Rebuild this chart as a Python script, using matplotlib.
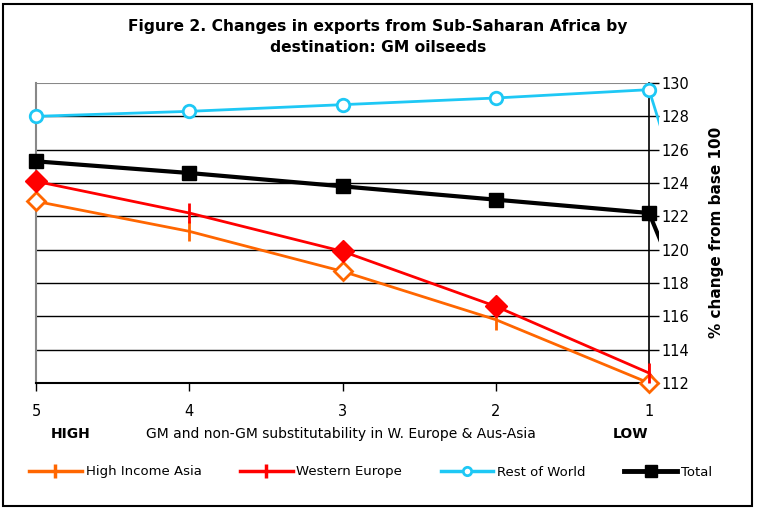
import matplotlib.pyplot as plt
from matplotlib.lines import Line2D
from matplotlib.patches import Rectangle

# substitutability level (5 = high ... 1 = low); 0 is the base-100 point off the chart
levels = [5, 4, 3, 2, 1, 0]

high_income_asia = [122.9, 121.1, 118.7, 115.8, 112.0, 100]
western_europe = [124.1, 122.2, 119.9, 116.6, 112.6, 100]
rest_of_world = [128.0, 128.3, 128.7, 129.1, 129.6, 100]
total = [125.3, 124.6, 123.8, 123.0, 122.2, 100]

y_ticks = [112, 114, 116, 118, 120, 122, 124, 126, 128, 130]
x_ticks = [5, 4, 3, 2, 1]

# per-point markers as drawn in the original workbook
hia_markers = ['D_open', '+', 'D_open', '+', 'D_open']
we_markers = ['D', '+', 'D', 'D', '+']

ORANGE = '#FF6600'
RED = '#FF0000'
CYAN = '#1EC8F5'

fig = plt.figure(figsize=(7.6, 5.08), dpi=100)
ax = fig.add_axes([36/760, 1 - 383/508, (659 - 36)/760, (383 - 83)/508])

# gridlines only across the plot area (x 5..1)
ax.hlines(y_ticks[1:-1], 1, 5, colors='black', lw=1, zorder=1)
ax.hlines(130, 1, 5, colors='#888888', lw=1.5, zorder=1)

ax.plot(levels, high_income_asia, color=ORANGE, lw=2, zorder=3)
ax.plot(levels, western_europe, color=RED, lw=2, zorder=3)
ax.plot(levels, rest_of_world, color=CYAN, lw=2, zorder=3)
ax.plot(levels, total, color='black', lw=3, zorder=3)

def draw_markers(xs, ys, kinds, color):
    for x, y, k in zip(xs, ys, kinds):
        if k == 'D_open':
            ax.plot(x, y, marker='D', ms=9, mfc='white', mec=color, mew=2, zorder=4, clip_on=False)
        elif k == 'D':
            ax.plot(x, y, marker='D', ms=11, mfc=color, mec=color, zorder=4, clip_on=False)
        else:
            ax.plot(x, y, marker='|', ms=15, mec=color, mew=2, zorder=4, clip_on=False)

draw_markers(levels[:5], high_income_asia[:5], hia_markers, ORANGE)
draw_markers(levels[:5], western_europe[:5], we_markers, RED)
ax.plot(levels[:5], rest_of_world[:5], ls='none', marker='o', ms=9, mfc='white',
        mec=CYAN, mew=2, zorder=4, clip_on=False)
ax.plot(levels[:5], total[:5], ls='none', marker='s', ms=10, color='black', zorder=5, clip_on=False)

ax.set_xlim(5, 0.935)
ax.set_ylim(112, 130)

ax.spines['top'].set_visible(False)
ax.spines['left'].set_color('#888888')
ax.spines['left'].set_linewidth(1.5)
ax.spines['right'].set_position(('data', 1))
ax.spines['right'].set_bounds(112, 130)
ax.spines['right'].set_linewidth(1.2)
ax.spines['bottom'].set_bounds(1, 5)
ax.spines['bottom'].set_linewidth(1.5)

ax.yaxis.tick_right()
ax.set_yticks(y_ticks)
ax.set_yticklabels([str(t) for t in y_ticks], fontsize=10.5)
ax.tick_params(axis='y', direction='out', length=7, width=1, pad=2)
ax.set_xticks(x_ticks)
ax.set_xticklabels([str(t) for t in x_ticks], fontsize=10.5)
ax.tick_params(axis='x', direction='out', length=6, width=1, pad=9)

fig.text(716/760, 1 - 232/508, '% change from base 100', rotation=90, fontsize=11,
         fontweight='bold', ha='center', va='center', family='Liberation Sans Narrow')

fig.text(378/760, 1 - 27/508, 'Figure 2. Changes in exports from Sub-Saharan Africa by',
         fontsize=11.2, fontweight='bold', ha='center', va='center')
fig.text(378/760, 1 - 48/508, 'destination: GM oilseeds',
         fontsize=11.2, fontweight='bold', ha='center', va='center')

fig.text(71/760, 1 - 434/508, 'HIGH', fontsize=10, fontweight='bold', ha='center', va='center')
fig.text(341/760, 1 - 434/508, 'GM and non-GM substitutability in W. Europe & Aus-Asia',
         fontsize=10, ha='center', va='center')
fig.text(630/760, 1 - 434/508, 'LOW', fontsize=10, fontweight='bold', ha='center', va='center')

handles = [
    Line2D([], [], color=ORANGE, lw=2.5, marker='|', ms=10, mew=2.5),
    Line2D([], [], color=RED, lw=2.5, marker='|', ms=10, mew=2.5),
    Line2D([], [], color=CYAN, lw=2.5, marker='o', ms=6, mfc='white', mew=2),
    Line2D([], [], color='black', lw=3.5, marker='s', ms=8),
]
labels = ['High Income Asia', 'Western Europe', 'Rest of World', 'Total']
fig.legend(handles, labels, loc='center left', bbox_to_anchor=(17/760, 1 - 472/508),
           ncol=4, frameon=False, fontsize=9.5, handlelength=4.0, handletextpad=0.3,
           columnspacing=2.9)

fig.patches.append(Rectangle((3/760, 1 - 506/508), 749/760, 502/508, transform=fig.transFigure,
                             fill=False, edgecolor='black', lw=1.5))

fig.savefig('out.png', dpi=100)
